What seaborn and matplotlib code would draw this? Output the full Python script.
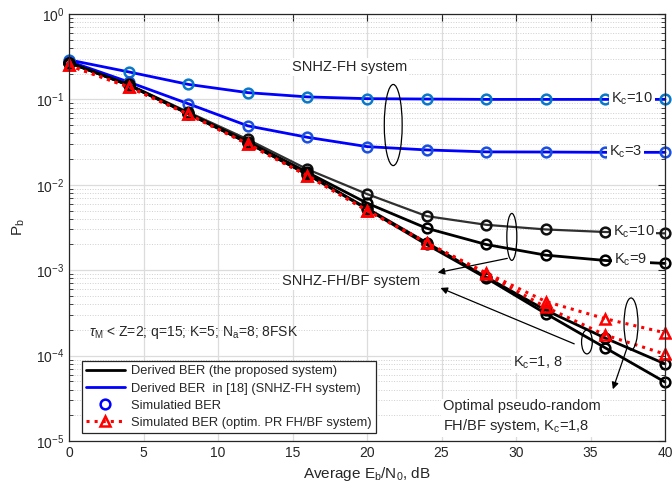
import numpy as np
import pandas as pd
import matplotlib
matplotlib.use("Agg")
import matplotlib.pyplot as plt
import seaborn as sns
from matplotlib.patches import Ellipse
from matplotlib.lines import Line2D

# ---------------- data ----------------
snr = [0, 4, 8, 12, 16, 20, 24, 28, 32, 36, 40]
fh_kc10 = [0.29, 0.21, 0.15, 0.12, 0.107, 0.102, 0.101, 0.100, 0.100, 0.100, 0.100]
fh_kc3 = [0.28, 0.16, 0.089, 0.049, 0.036, 0.028, 0.0256, 0.0243, 0.0242, 0.024, 0.024]
bf_kc10 = [0.27, 0.15, 0.071, 0.034, 0.0152, 0.0078, 0.0043, 0.0034, 0.0030, 0.0028, 0.0027]
bf_kc9 = [0.27, 0.148, 0.069, 0.032, 0.014, 0.0061, 0.0031, 0.0020, 0.0015, 0.0013, 0.0012]
bf_kc8 = [0.27, 0.147, 0.068, 0.031, 0.0133, 0.0053, 0.0021, 0.00083, 0.00034, 0.00016, 0.000080]
bf_kc1 = [0.27, 0.147, 0.068, 0.031, 0.0132, 0.0052, 0.0020, 0.00081, 0.00031, 0.000123, 0.000049]
pr_a = [0.25, 0.14, 0.067, 0.030, 0.0128, 0.0050, 0.0021, 0.00093, 0.00043, 0.00027, 0.000185]
pr_b = [0.25, 0.14, 0.067, 0.030, 0.0128, 0.0050, 0.0021, 0.00090, 0.00037, 0.000174, 0.000104]

xticks = [0, 5, 10, 15, 20, 25, 30, 35, 40]

# ---------------- style ----------------
sns.set_theme(style="white")
plt.rcParams['font.family'] = ['Liberation Sans', 'DejaVu Sans']
plt.rcParams['mathtext.fontset'] = 'custom'
plt.rcParams['mathtext.rm'] = 'Liberation Sans'
plt.rcParams['mathtext.it'] = 'Liberation Sans:italic'
plt.rcParams['mathtext.bf'] = 'Liberation Sans:bold'

fig = plt.figure(figsize=(6.72, 4.91), dpi=100)
ax = fig.add_axes([69/672, 1-441/491, 596/672, 427/491])

def draw(vals, color, mcolor, marker, ls='-', lw=2.0, ms=7):
    df = pd.DataFrame({"x": snr, "y": vals})
    sns.lineplot(data=df, x="x", y="y", ax=ax, color=color, linestyle=ls,
                 linewidth=lw, marker=marker, markersize=ms,
                 markerfacecolor='none', markeredgecolor=mcolor,
                 markeredgewidth=1.8, clip_on=False, legend=False,
                 errorbar=None)

draw(fh_kc10, '#0000ff', '#0a78c8', 'o')
draw(fh_kc3, '#0000ff', '#1a4fe0', 'o')
draw(bf_kc10, '#303030', '#111111', 'o', lw=1.6)
draw(bf_kc9, '#000000', '#000000', 'o')
draw(bf_kc8, '#000000', '#000000', 'o')
draw(bf_kc1, '#000000', '#000000', 'o')
draw(pr_a, '#ff0000', '#ff0000', '^', ls=':', lw=2.2, ms=7)
draw(pr_b, '#ff0000', '#ff0000', '^', ls=':', lw=2.2, ms=7)

ax.set_yscale('log')
ax.set_xlim(0, 40)
ax.set_ylim(1e-5, 1)
ax.set_xticks(xticks)
ax.set_xticklabels([str(t) for t in xticks])

ax.grid(which='major', axis='both', color='#dcdcdc', linewidth=0.9, linestyle='-')
ax.grid(which='minor', axis='y', color='#cfcfcf', linewidth=0.7, linestyle=':')
ax.set_axisbelow(True)
ax.tick_params(which='both', direction='in', top=True, right=True, labelsize=10, colors='#262626')
ax.tick_params(which='major', length=5, width=0.8)
ax.tick_params(which='minor', length=3, width=0.6, left=True, right=True)
for s in ax.spines.values():
    s.set_color('#262626')
    s.set_linewidth(0.9)

ax.set_xlabel('Average E$_\\mathrm{b}$/N$_0$, dB', fontsize=11, color='#262626', labelpad=4)
ax.set_ylabel('P$_\\mathrm{b}$', fontsize=11, color='#262626', labelpad=6)

T = ax.transAxes
wb = dict(facecolor='white', edgecolor='none', pad=1.5)

ax.text(0.374, 0.876, 'SNHZ-FH system', transform=T, fontsize=10.5, ha='left', va='center', bbox=wb, zorder=5)
ax.text(0.909, 0.801, 'K$_\\mathrm{c}$=10', transform=T, fontsize=10.5, ha='left', va='center', bbox=wb, zorder=5)
ax.text(0.906, 0.677, 'K$_\\mathrm{c}$=3', transform=T, fontsize=10.5, ha='left', va='center', bbox=wb, zorder=5)
ax.text(0.912, 0.489, 'K$_\\mathrm{c}$=10', transform=T, fontsize=10.5, ha='left', va='center', bbox=wb, zorder=5)
ax.text(0.915, 0.424, 'K$_\\mathrm{c}$=9', transform=T, fontsize=10.5, ha='left', va='center', bbox=wb, zorder=5)
ax.text(0.357, 0.375, 'SNHZ-FH/BF system', transform=T, fontsize=10.5, ha='left', va='center', bbox=wb, zorder=5)
ax.text(0.745, 0.183, 'K$_\\mathrm{c}$=1, 8', transform=T, fontsize=10.5, ha='left', va='center', bbox=wb, zorder=5)
ax.text(0.628, 0.056, 'Optimal pseudo-random\nFH/BF system, K$_\\mathrm{c}$=1,8', transform=T, fontsize=10.5,
        ha='left', va='center', bbox=wb, zorder=5, linespacing=1.3)
ax.text(0.034, 0.255, '$\\tau_{\\mathrm{M}}$ < Z=2; q=15; K=5; N$_\\mathrm{a}$=8; 8FSK', transform=T, fontsize=10,
        ha='left', va='center', zorder=5)

for (cx, cy, w, h) in [(0.544, 0.740, 0.030, 0.19), (0.743, 0.478, 0.0168, 0.110),
                       (0.869, 0.232, 0.018, 0.056), (0.943, 0.274, 0.0235, 0.122)]:
    ax.add_patch(Ellipse((cx, cy), w, h, transform=T, fill=False, edgecolor='black', linewidth=0.9, zorder=6))

for (x0, y0, x1, y1) in [(0.740, 0.429, 0.614, 0.393), (0.852, 0.225, 0.619, 0.361),
                         (0.938, 0.225, 0.911, 0.115)]:
    ax.annotate('', xy=(x1, y1), xycoords=T, xytext=(x0, y0), textcoords=T,
                arrowprops=dict(arrowstyle='-|>', color='black', lw=0.9, mutation_scale=10), zorder=6)

handles = [
    Line2D([], [], color='black', lw=2),
    Line2D([], [], color='#0000ff', lw=2),
    Line2D([], [], color='#0000ff', lw=0, marker='o', markerfacecolor='none', markeredgewidth=1.8, markersize=7),
    Line2D([], [], color='#ff0000', lw=2.2, ls=':', marker='^', markerfacecolor='none', markeredgewidth=1.8, markersize=7),
]
labels = ['Derived BER (the proposed system)', 'Derived BER  in [18] (SNHZ-FH system)',
          'Simulatied BER', 'Simulated BER (optim. PR FH/BF system)']
leg = ax.legend(handles, labels, loc='lower left', bbox_to_anchor=(0.022, 0.019), borderaxespad=0,
                fontsize=9.3, frameon=True, fancybox=False, edgecolor='#262626', framealpha=1,
                handlelength=3.0, handletextpad=0.5, labelspacing=0.4, borderpad=0.3)
leg.get_frame().set_linewidth(0.9)
leg.set_zorder(10)

fig.savefig('out.png', dpi=100)
